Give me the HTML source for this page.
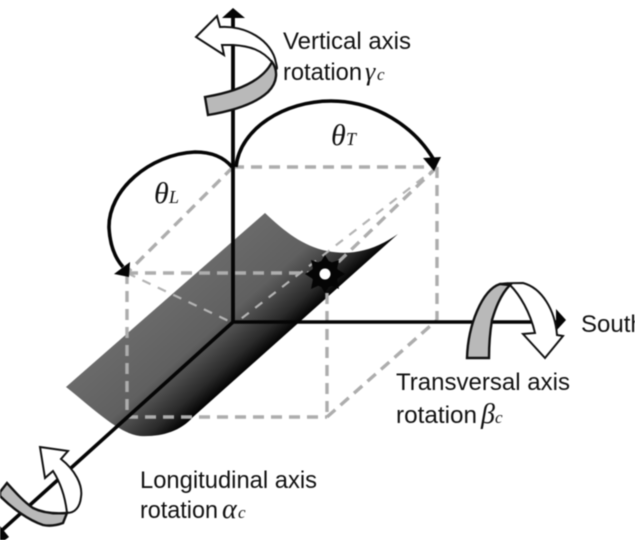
<!DOCTYPE html>
<html>
<head>
<meta charset="utf-8">
<style>
html,body{margin:0;padding:0;background:#fff;width:635px;height:540px;overflow:hidden}
svg{display:block;filter:blur(0.6px)}
text{font-family:"Liberation Sans",sans-serif;fill:#111}
.l{font-size:24px}
.g{font-family:"Liberation Serif",serif;font-style:italic}
.d{fill:none;stroke:#adadad;stroke-width:3.4;stroke-dasharray:11 7}
.t{fill:none;stroke:#b4b4b4;stroke-width:2.2;stroke-dasharray:9 8}
.a{fill:#fff;stroke:#111;stroke-width:2;stroke-linejoin:miter}
.b{fill:#b9b9b9;stroke:#111;stroke-width:2.4;stroke-linejoin:miter}
</style>
</head>
<body>
<svg width="635" height="540" viewBox="0 0 635 540" xmlns="http://www.w3.org/2000/svg">
<defs>
<linearGradient id="s" gradientUnits="userSpaceOnUse" x1="265" y1="213" x2="334" y2="291">
<stop offset="0" stop-color="#6a6a6a"/>
<stop offset=".5" stop-color="#606060"/>
<stop offset=".65" stop-color="#4a4a4a"/>
<stop offset=".85" stop-color="#2a2a2a"/>
<stop offset="1" stop-color="#040404"/>
</linearGradient>
</defs>

<!-- surface -->
<path d="M265,213 C285,232 303,246 327,251 C352,256 375,250 398,234 L193,417 C180,432 160,437 140,436 C118,433 95,410 66,387 Z" fill="url(#s)"/>

<!-- dashed box -->
<path class="t" d="M127,273 L233,323"/>
<path class="t" d="M437,167 L237,322"/>
<path class="d" d="M233,167 H437"/>
<path class="d" d="M437,167 V320"/>
<path class="d" d="M437,167 L327,273"/>
<path class="d" d="M233,167 L127,273"/>
<path class="d" d="M127,273 H327"/>
<path class="d" d="M127,273 V417"/>
<path class="d" d="M327,275 V417"/>
<path class="d" d="M127,417 H327"/>
<path class="d" d="M327,417 L437,320"/>

<!-- axes -->
<path d="M233,16 V323" stroke="#050505" stroke-width="3.8" fill="none"/>
<path d="M233,322 H558" stroke="#050505" stroke-width="3.6" fill="none"/>
<path d="M233,322 L0,532" stroke="#050505" stroke-width="3.6" fill="none"/>
<path d="M233,8 L245,18 H222 Z" fill="#050505"/>
<path d="M566,320 L556,309 V331 Z" fill="#050505"/>
<path d="M0,526 L9,537 L5,540 H0 Z" fill="#050505"/>

<!-- theta arcs -->
<path d="M236,167 C240,128 285,101 331,101 C375,101 414,126 434,160" fill="none" stroke="#050505" stroke-width="3.6"/>
<path d="M423,158 L441,157 L434,171 Z" fill="#050505"/>
<path d="M232,167 C222,155 208,152 195,152 C150,154 108,190 109,228 C110,245 115,258 123,267" fill="none" stroke="#050505" stroke-width="3.6"/>
<path d="M114,274 L130,262 L129,277 Z" fill="#050505"/>

<!-- gear -->
<circle cx="325" cy="274" r="13.5" fill="#050505"/>
<path d="M325,255 L330,263 L339,260 L337,269 L345,274 L337,279 L339,289 L330,285 L325,293 L320,285 L311,289 L313,279 L305,274 L313,269 L311,260 L320,263 Z" fill="#050505"/>
<circle cx="325" cy="274" r="5.5" fill="#fff"/>

<!-- vertical rotation arrow -->
<path class="a" d="M196,37 L217,16 L220,27 C245,25 272,40 276,63 C278,70 277,72 272,62 C262,50 250,46 233,45 L222,45 L224,55 Z"/>
<path class="b" d="M205,97 C235,92 262,82 272,62 C278,70 278,82 268,92 C255,104 232,111 208,115 Z"/>

<!-- transversal rotation arrow -->
<path class="a" d="M500,284 C506,283 516,283 523,283 C542,288 555,310 557,335 L563,336 L545,358 L523,334 L535,333 C530,312 520,295 510,285 Z"/>
<path class="b" d="M467,358 C468,325 482,290 500,284 L510,285 C500,295 495,310 492,320 C490,332 489,345 489,358 Z"/>

<!-- longitudinal rotation arrow -->
<path class="a" d="M40,447 L68,451 L61,459 C75,470 83,485 81,497 C80,507 75,513 67,513 C65,495 60,482 53,471 L45,478 Z"/>
<path class="b" d="M7,483 C16,493 24,502 33,508 C43,513 55,514 67,513 L63,523 C55,526 48,526 43,525 C28,520 12,508 0,496 L0,492 Z"/>

<!-- labels -->
<text class="l" x="283" y="49" textLength="128" lengthAdjust="spacingAndGlyphs">Vertical axis</text>
<text class="l" x="283" y="80" textLength="79" lengthAdjust="spacingAndGlyphs">rotation</text>
<text class="g" x="365" y="80" font-size="26">γ</text><text class="g" x="377" y="80" font-size="17">c</text>

<text class="g" x="331" y="145" font-size="30">θ</text><text class="g" x="346" y="145" font-size="18">T</text>
<text class="g" x="154" y="203" font-size="30">θ</text><text class="g" x="169" y="203" font-size="18">L</text>

<text class="l" x="581" y="332">South</text>

<text class="l" x="396" y="390" textLength="174" lengthAdjust="spacingAndGlyphs">Transversal axis</text>
<text class="l" x="396" y="423" textLength="81" lengthAdjust="spacingAndGlyphs">rotation</text>
<text class="g" x="481" y="423" font-size="28">β</text><text class="g" x="495" y="423" font-size="17">c</text>

<text class="l" x="140" y="488" textLength="177" lengthAdjust="spacingAndGlyphs">Longitudinal axis</text>
<text class="l" x="140" y="518" textLength="78" lengthAdjust="spacingAndGlyphs">rotation</text>
<text class="g" x="222" y="518" font-size="28">α</text><text class="g" x="238" y="518" font-size="17">c</text>
</svg>
</body>
</html>
